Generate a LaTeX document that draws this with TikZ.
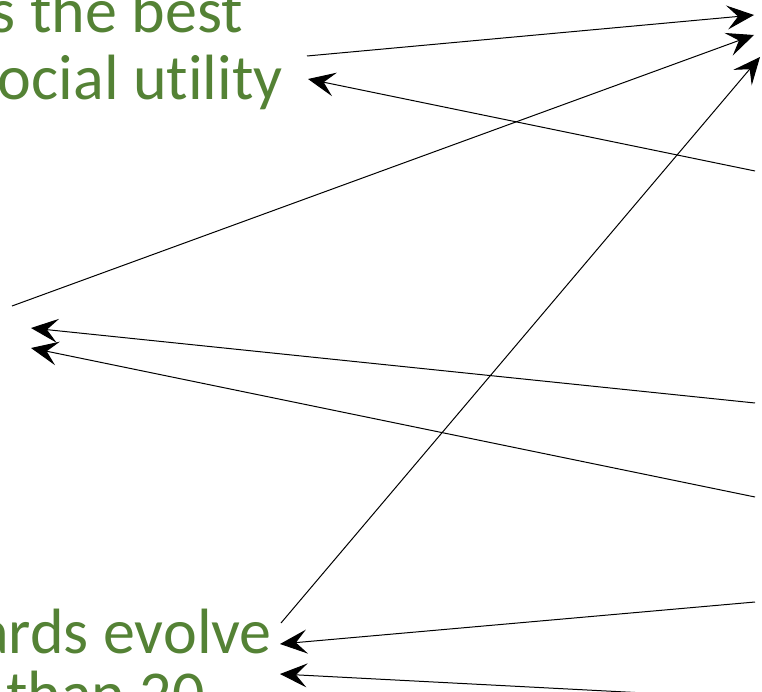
\documentclass[tikz,border=0pt]{standalone}
\usepackage{fontspec}
\setmainfont{Carlito}[Ligatures=CommonOff]
\usetikzlibrary{arrows.meta}
\definecolor{txtgreen}{RGB}{84,130,53}
\begin{document}
\begin{tikzpicture}[x=1pt,y=-1pt,
  lbl/.style={text=txtgreen, font=\fontsize{64}{76}\selectfont, inner sep=0pt, anchor=base east},
  conn/.style={line width=1pt, -{Stealth[length=27pt,width=24pt,inset=11pt]}}]
\useasboundingbox (0,0) rectangle (762,692);
\clip (0,0) rectangle (762,692);
% texts
\node[lbl] (ta) at (243,33) {s the best};
\node[lbl] (tb) at (283,100) {ocial utility};
\node[lbl] (tc) at (272,653) {ards evolve};
\node[lbl] (td) at (205,715) {than 20};
% connector ends
\coordinate (a1) at (307,56);   \coordinate (b1) at (754,15);
\coordinate (a2) at (755,171);  \coordinate (b2) at (308,79);
\coordinate (a3) at (12,306);   \coordinate (b3) at (754,35);
\coordinate (a4) at (281,623);  \coordinate (b4) at (760,57);
\coordinate (a5) at (755,403);  \coordinate (b5) at (31,328);
\coordinate (a6) at (755,497);  \coordinate (b6) at (31,348);
\coordinate (a7) at (755,602);  \coordinate (b7) at (280,644);
\coordinate (a8) at (760,699);  \coordinate (b8) at (280,674);
\foreach \i in {1,...,8} {\draw[conn] (a\i) -- (b\i);}
\end{tikzpicture}
\end{document}
